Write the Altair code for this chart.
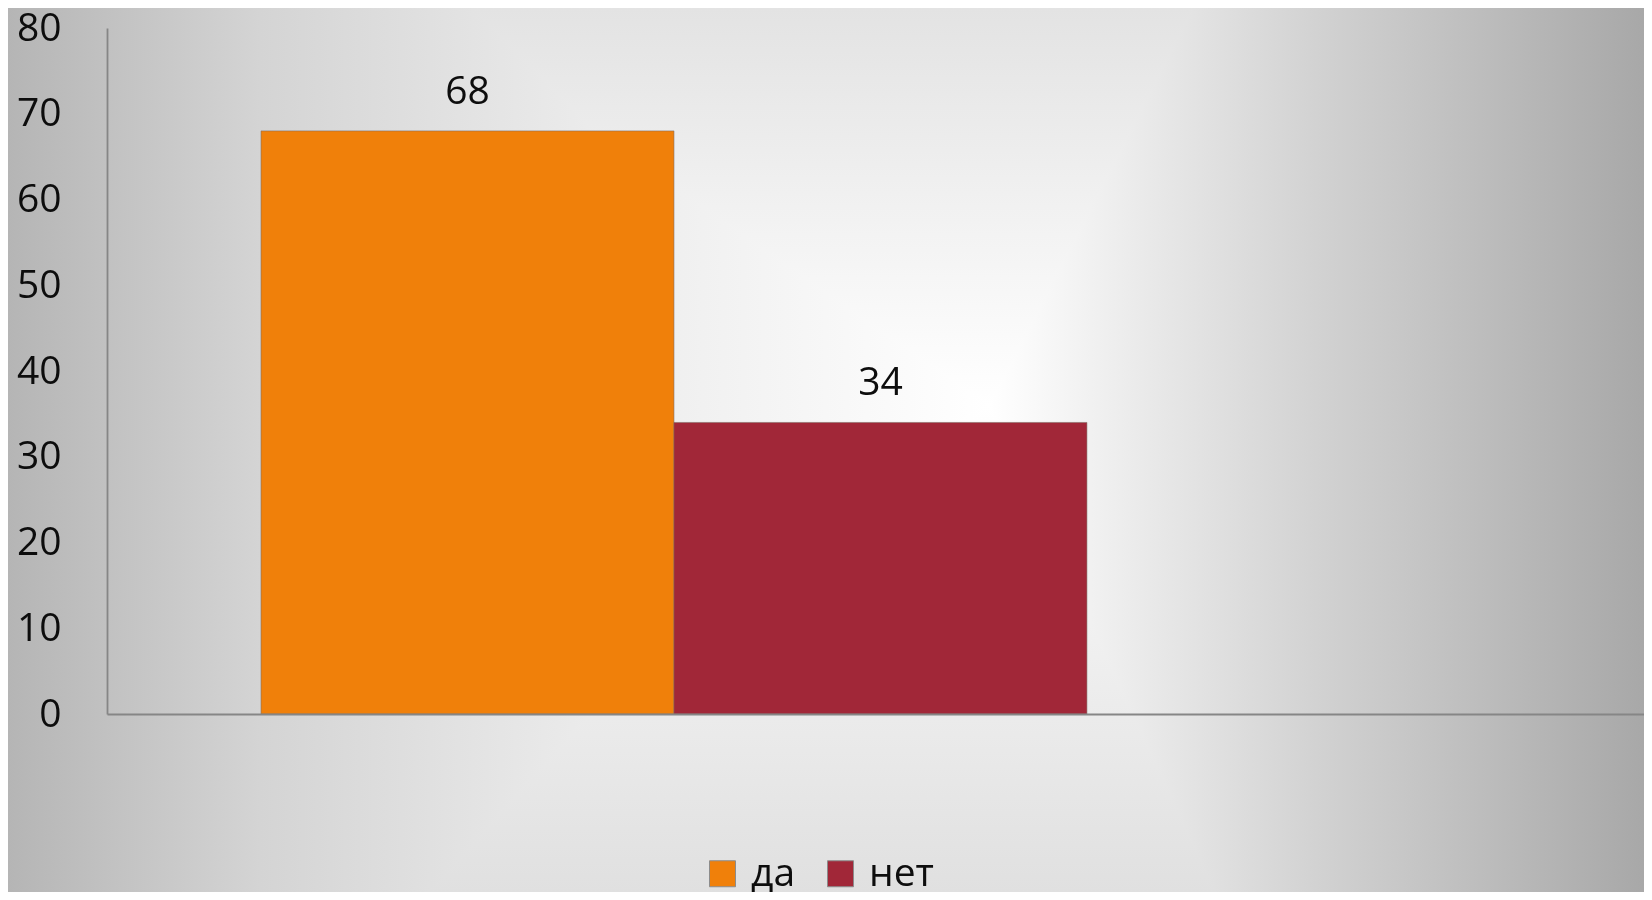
import altair as alt
import pandas as pd

# ---- data ----
series = ["да", "нет"]
values = [68, 34]
colors = ["#F0800A", "#A12738"]
y_ticks = [0, 10, 20, 30, 40, 50, 60, 70, 80]

df = pd.DataFrame({"series": series, "value": values})

W, H = 1537, 686
PAD = {"left": 99, "top": 20, "right": 0, "bottom": 178}
FONT = "Open Sans"
AXIS_GREY = "#868686"

# ---- background (radial-like grey gradient) ----
bg_data = alt.Data(values=[{"k": 1}])
h_grad = alt.LinearGradient(
    gradient="linear", x1=0, y1=0, x2=1, y2=0,
    stops=[
        alt.GradientStop(offset=0.0, color="#b5b5b5"),
        alt.GradientStop(offset=0.154, color="#d4d4d4"),
        alt.GradientStop(offset=0.362, color="#ececec"),
        alt.GradientStop(offset=0.6, color="#ffffff"),
        alt.GradientStop(offset=0.8, color="#d2d2d2"),
        alt.GradientStop(offset=1.0, color="#a8a8a8"),
    ],
)
v_grad = alt.LinearGradient(
    gradient="linear", x1=0, y1=0, x2=0, y2=1,
    stops=[
        alt.GradientStop(offset=0.0, color="#e3e3e3"),
        alt.GradientStop(offset=0.45, color="#ffffff"),
        alt.GradientStop(offset=1.0, color="#e0e0e0"),
    ],
)
bg_enc = dict(
    x=alt.value(-PAD["left"]), x2=alt.value(W + PAD["right"]),
    y=alt.value(-PAD["top"]), y2=alt.value(H + PAD["bottom"]),
)
bg_h = alt.Chart(bg_data).mark_rect(fill=h_grad, strokeWidth=0).encode(**bg_enc)
bg_v = alt.Chart(bg_data).mark_rect(fill=v_grad, strokeWidth=0, blend="darken").encode(**bg_enc)

# ---- bars ----
x_enc = alt.X(
    "series:N", sort=series,
    scale=alt.Scale(domain=series, paddingInner=0, paddingOuter=0.861, align=0.2166),
    axis=alt.Axis(labels=False, ticks=False, title=None, domainColor=AXIS_GREY,
                  domainWidth=1.8, zindex=2),
)
y_enc = alt.Y(
    "value:Q",
    scale=alt.Scale(domain=[0, 80], nice=False),
    axis=alt.Axis(values=y_ticks, ticks=False, grid=False, title=None, labelPadding=46,
                  labelFont=FONT, labelFontSize=39, labelColor="#0d0d0d",
                  labelFlush=False, labelOverlap=False,
                  domainColor=AXIS_GREY, domainWidth=1.8, zindex=2),
)

bars = alt.Chart(df).mark_bar(stroke="#7d6a60", strokeWidth=1, strokeOpacity=0.55).encode(
    x=x_enc,
    y=y_enc,
    color=alt.Color(
        "series:N",
        scale=alt.Scale(domain=series, range=colors),
        legend=alt.Legend(
            orient="none", legendX=596, legendY=826, direction="horizontal",
            title=None, symbolType="square", symbolSize=676,
            symbolStrokeColor="#8c8c8c", symbolStrokeWidth=1,
            labelFont=FONT, labelFontSize=39, labelColor="#0d0d0d",
            columnPadding=25, labelOffset=9, padding=0, zindex=2,
        ),
    ),
)

labels = alt.Chart(df).mark_text(
    dy=-39, baseline="middle", align="center", font=FONT, fontSize=39, color="#0d0d0d"
).encode(x=alt.X("series:N", sort=series), y=alt.Y("value:Q"), text=alt.Text("value:Q"))

chart = alt.layer(bg_h, bg_v, bars, labels).properties(
    width=W, height=H,
    padding=PAD,
    autosize=alt.AutoSizeParams(type="none"),
).configure_view(strokeWidth=0)

chart.save("out.html", embed_options={"renderer": "svg", "actions": False})
